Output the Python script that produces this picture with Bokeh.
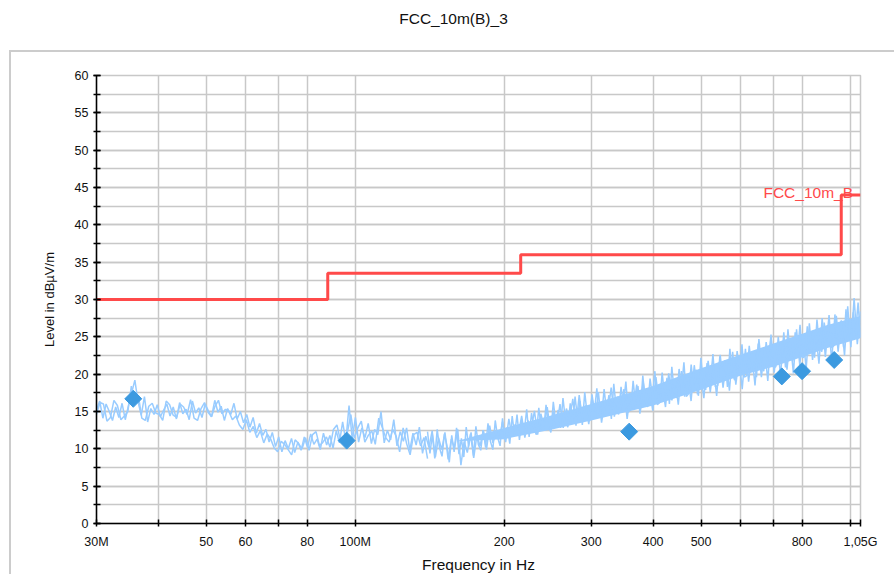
import numpy as np
from bokeh.plotting import figure
from bokeh.layouts import column, row
from bokeh.models import FixedTicker, SingleIntervalTicker, Label, Spacer
from bokeh.core.properties import value
from bokeh.embed import file_html
from bokeh.resources import INLINE

TITLE = "FCC_10m(B)_3"
X_LABEL = "Frequency in Hz"
Y_LABEL = "Level in dBµV/m"
FONT = "Liberation Sans"

# x axis ticks (MHz) and their labels
x_tick_mhz = [30, 40, 50, 60, 70, 80, 100, 200, 300, 400, 500, 600, 700, 800, 1000, 1050]
x_tick_labels = ["30M", "", "50", "60", "", "80", "100M", "200", "300", "400", "500", "", "", "800", "", "1,05G"]

# limit line (step)
limit_name = "FCC_10m_B"
limit_mhz = [30, 88, 216, 960, 1050]
limit_db = [30.0, 33.5, 36.0, 44.0, 44.0]

# final measurement points
marker_mhz = [35.6, 96.1, 357.8, 728, 800, 929]
marker_db = [16.7, 11.1, 12.3, 19.7, 20.4, 21.9]

# dense core of the pre-scan trace (upper frequencies)
band_mhz = [160, 200, 250, 300, 400, 500, 600, 700, 800, 900, 1050]
band_lo = [11.0, 11.3, 12.6, 13.8, 15.8, 17.9, 19.8, 21.0, 22.3, 23.5, 24.8]
band_hi = [11.0, 12.8, 14.5, 16.0, 18.4, 20.8, 22.6, 24.1, 25.4, 26.6, 27.8]

# pre-scan trace levels (dBµV/m), sweep 30 MHz .. 1.05 GHz
trace_db = [
    15.2, 16.4, 14.1, 16.0, 15.0, 13.8, 15.6, 14.2, 16.1, 13.9, 15.8, 17.5,
    19.2, 16.3, 14.5, 17.0, 13.6, 15.4, 14.6, 15.9, 14.3, 15.2, 16.0, 14.4,
    15.6, 14.0, 16.2, 14.7, 15.3, 13.9, 16.4, 14.8, 15.5, 14.2, 16.0, 15.1,
    14.3, 16.5, 14.9, 15.7, 13.8, 15.4, 14.6, 16.1, 14.0, 15.0, 13.5, 14.6,
    12.9, 14.2, 12.1, 13.4, 11.8, 12.6, 10.9, 12.2, 10.3, 11.6, 9.6, 11.1,
    10.0, 11.4, 9.5, 10.9, 9.8, 11.6, 10.2, 12.0, 10.6, 11.3, 9.9, 12.1,
    10.5, 11.8, 10.1, 12.4, 10.8, 13.6, 11.0, 15.8, 11.3, 14.2, 10.9, 12.8,
    11.5, 13.4, 10.7, 12.6, 11.9, 15.0, 10.8, 12.5, 11.2, 13.9, 10.4, 12.3,
    11.0, 12.8, 9.8, 12.1, 10.5, 12.9, 9.4, 11.7, 10.2, 12.4, 8.9, 11.5,
    9.9, 12.2, 8.6, 11.3, 10.1, 12.6, 7.8, 11.0, 9.5, 12.0, 8.8, 11.8,
    10.4, 12.5, 9.9, 13.1, 10.8, 12.2, 11.3, 13.6, 10.9, 14.0, 11.6, 13.3,
    12.0, 14.4, 11.5, 13.8, 12.6, 15.1, 11.9, 14.7, 13.0, 15.6, 12.4, 14.9,
    13.2, 16.0, 12.8, 15.4, 13.9, 16.7, 13.1, 17.2, 14.0, 15.8, 13.3, 16.9,
    14.1, 17.6, 13.5, 16.4, 14.8, 18.2, 14.3, 17.0, 15.2, 18.0, 14.0, 17.4,
    15.4, 18.6, 14.7, 19.0, 15.9, 18.1, 15.1, 19.6, 16.2, 18.4, 15.6, 20.1,
    16.5, 19.3, 15.9, 20.4, 17.0, 19.8, 16.4, 21.2, 17.3, 20.0, 16.8, 21.5,
    17.6, 21.0, 17.1, 22.4, 18.2, 21.6, 17.8, 23.0, 18.6, 22.1, 18.0, 23.4,
    19.0, 22.8, 18.5, 24.1, 19.6, 23.5, 19.1, 25.0, 20.2, 24.0, 19.8, 25.6,
    20.6, 24.8, 20.1, 26.0, 21.2, 25.3, 20.7, 26.8, 21.9, 25.7, 21.4, 27.5,
    22.3, 26.6, 21.8, 28.0, 23.0, 27.2, 22.5, 29.1, 23.6, 30.2, 24.0, 28.4,
]

# more sweep samples, 30 .. 140 MHz
trace_low_db = [
    14.6, 16.2, 16.0, 13.7, 14.2, 16.5, 15.8, 13.9, 14.4, 15.0, 18.4, 16.0,
    17.2, 14.1, 13.8, 15.7, 16.1, 14.8, 14.6, 13.8, 16.4, 15.9, 14.5, 14.2,
    16.0, 15.6, 14.6, 16.6, 14.1, 13.8, 15.4, 16.2, 14.9, 14.3, 15.7, 16.5,
    14.7, 15.3, 15.0, 13.9, 14.4, 13.2, 12.6, 13.9, 12.2, 13.0, 11.5, 12.4,
    10.8, 12.0, 11.3, 10.1, 9.6, 11.0, 10.6, 9.9, 9.2, 11.2, 10.7, 10.0,
    11.5, 9.8, 11.9, 12.3, 10.4, 10.9, 11.6, 10.2, 12.6, 13.2, 11.1, 10.8,
    12.2, 14.6, 11.4, 12.8, 13.7, 10.9, 11.8, 12.4, 10.6, 14.1, 12.9, 11.5,
    10.9, 12.6, 11.7, 9.6, 12.8, 10.7, 9.2, 11.9, 12.2, 10.4, 11.5, 8.7,
]

# more sweep samples, 140 MHz .. 1.05 GHz
trace_high_db = [
    12.3, 9.4, 11.9, 8.7, 12.6, 10.1, 9.0, 12.0, 10.5, 8.2, 11.8, 9.6,
    12.8, 9.3, 11.4, 8.9, 12.9, 10.3, 12.2, 9.1, 13.0, 10.6, 9.8, 12.5,
    10.2, 13.4, 11.0, 9.9, 13.8, 11.5, 10.4, 14.1, 11.2, 12.9, 10.7, 14.4,
    11.8, 14.6, 11.2, 13.9, 12.3, 15.3, 11.6, 14.8, 12.7, 11.9, 15.5, 12.8,
    12.5, 15.9, 13.1, 12.2, 16.3, 13.6, 15.2, 12.8, 16.8, 13.9, 12.9, 16.1,
    13.4, 17.0, 14.1, 16.4, 13.2, 17.6, 14.6, 13.7, 17.3, 15.0, 18.1, 14.2,
    14.4, 18.0, 15.1, 17.2, 14.0, 18.7, 15.5, 14.6, 18.3, 16.0, 19.0, 14.9,
    15.3, 19.1, 16.0, 18.4, 15.0, 19.8, 16.5, 15.6, 19.4, 17.0, 20.4, 15.9,
    16.2, 20.2, 17.1, 19.5, 16.0, 21.0, 17.6, 16.8, 20.7, 18.1, 21.6, 17.0,
    17.4, 21.3, 18.2, 20.6, 17.1, 22.2, 18.8, 17.9, 21.8, 19.2, 22.7, 18.3,
    18.5, 22.6, 19.4, 21.9, 18.3, 23.4, 20.0, 19.2, 23.1, 20.5, 24.0, 19.6,
    19.8, 23.8, 20.7, 23.1, 19.6, 24.7, 21.3, 20.4, 24.3, 21.8, 25.3, 20.9,
    21.0, 25.0, 21.9, 24.4, 20.9, 26.0, 22.6, 21.7, 25.6, 23.1, 26.6, 22.2,
    22.4, 26.4, 23.3, 25.7, 22.2, 27.3, 23.9, 23.0, 26.9, 24.4, 27.9, 23.5,
    23.8, 27.8, 24.6, 27.1, 23.6, 28.7, 25.2, 24.3, 28.3, 25.7, 29.6, 24.9,
]

# sweep frequency grids (log spaced, like the receiver sweep)
trace_mhz = np.geomspace(30, 1050, len(trace_db))
trace_low_mhz = np.geomspace(30, 140, len(trace_low_db))
trace_high_mhz = np.geomspace(140, 1050, len(trace_high_db))

MHZ = 1e6
TRACE_COLOR = "#99ccff"
MARK_COLOR = "#3c9ae0"
LIMIT_COLOR = "#ff4a4a"
GRID_COLOR = "#c8c8c8"

# ---------- header with title ----------
head = figure(width=896, height=50, toolbar_location=None,
              output_backend="svg", x_range=(0, 896), y_range=(0, 50),
              x_axis_location=None, y_axis_location=None, min_border=0)
head.grid.visible = False
head.outline_line_color = None
head.text(x=[453], y=[32], text=[TITLE], text_align="center",
          text_baseline="middle", text_font=value(FONT),
          text_font_size="15.5px", text_color="#111111")

# ---------- main chart ----------
p = figure(width=885, height=524, x_axis_type="log",
           x_range=(30 * MHZ, 1050 * MHZ), y_range=(0, 60),
           toolbar_location=None, output_backend="svg",
           min_border_left=85, min_border_right=36,
           min_border_top=23, min_border_bottom=53,
           styles={"border-left": "2px solid #cccccc", "border-top": "2px solid #cccccc"})
p.outline_line_color = GRID_COLOR
p.outline_line_width = 1.5

# x axis
xt = [v * MHZ for v in x_tick_mhz]
p.xaxis.ticker = FixedTicker(ticks=xt, minor_ticks=[])
p.xaxis.major_label_overrides = {t: lab for t, lab in zip(xt, x_tick_labels)}
p.xaxis.axis_label = X_LABEL

# y axis
p.yaxis.ticker = SingleIntervalTicker(interval=5, num_minor_ticks=2)
p.yaxis.axis_label = Y_LABEL

for ax in (p.xaxis[0], p.yaxis[0]):
    ax.axis_line_color = "black"
    ax.axis_line_width = 1.5
    ax.major_tick_line_color = "black"
    ax.major_tick_line_width = 1.5
    ax.major_tick_in = 4
    ax.major_tick_out = 3
    ax.minor_tick_line_color = "black"
    ax.minor_tick_line_width = 1.5
    ax.minor_tick_in = 4
    ax.minor_tick_out = 3
    ax.major_label_text_font = FONT
    ax.major_label_text_font_size = "12.5px"
    ax.major_label_text_color = "#111111"
    ax.axis_label_text_font = FONT
    ax.axis_label_text_font_style = "normal"
    ax.axis_label_text_color = "#111111"

p.xaxis.major_label_standoff = 8
p.xaxis.axis_label_standoff = 4
p.xaxis.axis_label_text_font_size = "15.5px"
p.yaxis.major_label_standoff = 5
p.yaxis.axis_label_standoff = 15
p.yaxis.axis_label_text_font_size = "13px"

p.xgrid.grid_line_color = GRID_COLOR
p.xgrid.grid_line_width = 1.5
p.ygrid.grid_line_color = GRID_COLOR
p.ygrid.grid_line_width = 1.5
p.ygrid.minor_grid_line_color = GRID_COLOR
p.ygrid.minor_grid_line_width = 1.5

# trace
p.varea(x=[v * MHZ for v in band_mhz], y1=band_lo, y2=band_hi,
        fill_color=TRACE_COLOR, fill_alpha=1.0)
p.line(x=trace_low_mhz * MHZ, y=trace_low_db, line_color=TRACE_COLOR, line_width=1.5)
p.line(x=trace_high_mhz * MHZ, y=trace_high_db, line_color=TRACE_COLOR, line_width=1.5)
p.line(x=trace_mhz * MHZ, y=trace_db, line_color=TRACE_COLOR, line_width=1.5)

# limit
p.step(x=[v * MHZ for v in limit_mhz], y=limit_db, mode="after",
       line_color=LIMIT_COLOR, line_width=3)
p.add_layout(Label(x=1014 * MHZ, y=limit_db[-1], text=limit_name,
                   text_align="right", text_baseline="alphabetic", y_offset=2,
                   text_color=LIMIT_COLOR, text_font=FONT,
                   text_font_size="15.5px"))

# final measurement markers
p.scatter(x=[v * MHZ for v in marker_mhz], y=marker_db, marker="square",
          angle=np.pi / 4, size=12, fill_color=MARK_COLOR,
          line_color=MARK_COLOR)

layout = column(head, row(Spacer(width=9, height=524), p, spacing=0), spacing=0)
open("out.html", "w").write(file_html(layout, INLINE))
